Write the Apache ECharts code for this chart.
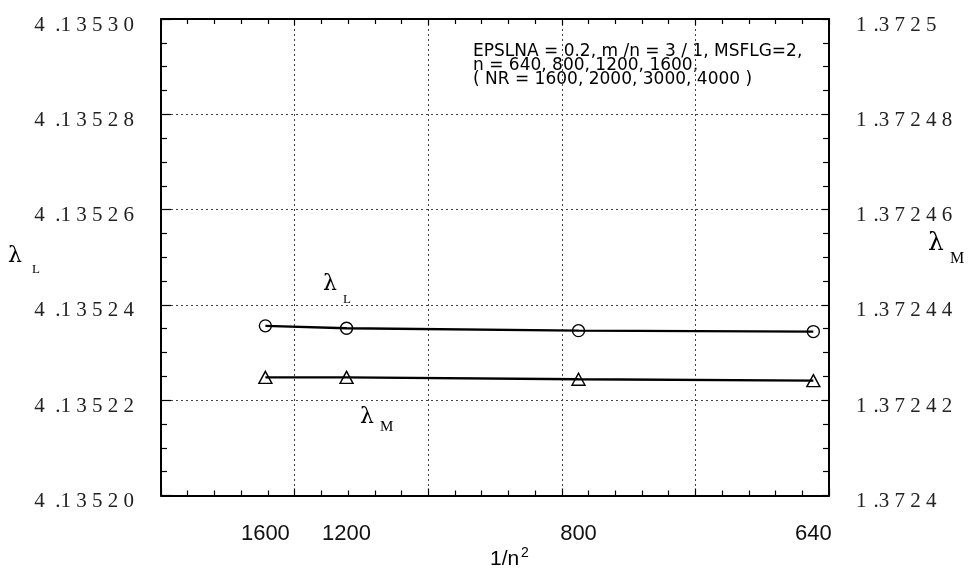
<!DOCTYPE html>
<html>
<head>
<meta charset="utf-8">
<script src="https://cdn.jsdelivr.net/npm/echarts@6/dist/echarts.min.js"></script>
<style>
  html, body { margin: 0; padding: 0; background: #fff; }
  #chart { width: 971px; height: 577px; }
</style>
</head>
<body>
<div id="chart"></div>
<script>
// grid sizes n, the x axis is 1/n^2 (plotted in units of 1e-6)
var nValues = [1600, 1200, 800, 640];
var xTickLabels = ['1600', '1200', '800', '640'];
// eigenvalues
var lambdaL = [4.1352356, 4.1352351, 4.1352346, 4.1352344];
var lambdaM = [1.3724248, 1.3724248, 1.3724244, 1.3724241];
var noteLines = [
  'EPSLNA = 0.2, m /n = 3 / 1, MSFLG=2,',
  'n = 640, 800, 1200, 1600,',
  '( NR = 1600, 2000, 3000, 4000 )'
];

var invN2 = nValues.map(function (n) { return 1e6 / (n * n); });

function pairs(ys) {
  return invN2.map(function (x, i) { return [x, ys[i]]; });
}

// typewriter-like spacing of the y tick labels
function spaced(s, first) {
  var head = s.charAt(0);
  var rest = s.slice(2).split('');
  return head + first + '.' + rest.join('\u2005');
}
function fmtLeft(v) {
  return spaced(v.toFixed(5), '\u2002');
}
function fmtRight(v) {
  return spaced(String(+v.toFixed(5)), '\u2004');
}

var black = '#000';
var tickStyle = { color: black, width: 1.2 };
var frameLine = { show: true, onZero: false, lineStyle: { color: black, width: 2 } };
var gridDots = { show: true, lineStyle: { color: '#444', width: 1, type: [2, 3] } };
var yLabel = {
  color: '#222',
  fontFamily: 'Liberation Serif',
  fontSize: 21,
  margin: 27,
  verticalAlign: 'top',
  lineHeight: 12
};

var myChart = echarts.init(document.getElementById('chart'));
var option = {
  animation: false,
  grid: { left: 161, right: 142, top: 19, bottom: 81.5 },
  xAxis: [
    {
      type: 'value', position: 'bottom', min: 0, max: 2.5, interval: 0.5,
      axisLine: frameLine,
      axisTick: { inside: true, length: 7, lineStyle: tickStyle },
      minorTick: { show: true, splitNumber: 5, length: 5, lineStyle: tickStyle },
      splitLine: gridDots,
      axisLabel: {
        customValues: invN2,
        formatter: function (v) {
          for (var i = 0; i < invN2.length; i++) {
            if (Math.abs(invN2[i] - v) < 1e-9) return xTickLabels[i];
          }
          return '';
        },
        margin: 27,
        fontFamily: 'Liberation Sans',
        fontSize: 22,
        color: '#111'
      }
    },
    {
      type: 'value', position: 'top', min: 0, max: 2.5, interval: 0.5,
      axisLine: frameLine,
      axisTick: { inside: true, length: 6, lineStyle: tickStyle },
      minorTick: { show: true, splitNumber: 5, length: 5, lineStyle: tickStyle },
      splitLine: { show: false },
      axisLabel: { show: false }
    }
  ],
  yAxis: [
    {
      type: 'value', position: 'left', min: 4.1352, max: 4.1353, interval: 0.00002,
      axisLine: frameLine,
      axisTick: { inside: true, length: 10, lineStyle: tickStyle },
      minorTick: { show: true, splitNumber: 4, length: 6, lineStyle: tickStyle },
      splitLine: gridDots,
      axisLabel: Object.assign({ formatter: fmtLeft }, yLabel)
    },
    {
      type: 'value', position: 'right', min: 1.3724, max: 1.3725, interval: 0.00002,
      axisLine: frameLine,
      axisTick: { inside: true, length: 7, lineStyle: tickStyle },
      minorTick: { show: true, splitNumber: 4, length: 6, lineStyle: tickStyle },
      splitLine: { show: false },
      axisLabel: Object.assign({ formatter: fmtRight }, yLabel)
    }
  ],
  series: [
    {
      name: 'lambdaL', type: 'line', xAxisIndex: 0, yAxisIndex: 0,
      data: pairs(lambdaL),
      symbol: 'circle', symbolSize: 12,
      itemStyle: { color: 'rgba(0,0,0,0)', borderColor: black, borderWidth: 1.4 },
      lineStyle: { color: black, width: 2.4 },
      z: 5
    },
    {
      name: 'lambdaM', type: 'line', xAxisIndex: 0, yAxisIndex: 1,
      data: pairs(lambdaM),
      symbol: 'triangle', symbolSize: [13, 12],
      itemStyle: { color: 'rgba(0,0,0,0)', borderColor: black, borderWidth: 1.4 },
      lineStyle: { color: black, width: 2.4 },
      z: 5
    }
  ],
  graphic: [
    { type: 'text', style: { x: 473, y: 44, text: noteLines.join('\n'), font: '17px "DejaVu Sans"', lineHeight: 14.3, fill: '#000', verticalAlign: 'top' } },
    // axis titles
    { type: 'text', style: { x: 8, y: 245, text: 'λ', font: '22px "DejaVu Serif"', fill: '#000', verticalAlign: 'top' } },
    { type: 'text', style: { x: 32, y: 263, text: 'L', font: '13px "Liberation Serif"', fill: '#000', verticalAlign: 'top' } },
    { type: 'text', style: { x: 928, y: 231, text: 'λ', font: '25px "DejaVu Serif"', fill: '#000', verticalAlign: 'top' } },
    { type: 'text', style: { x: 950, y: 251, text: 'M', font: '16px "Liberation Serif"', fill: '#000', verticalAlign: 'top' } },
    { type: 'text', style: { x: 490, y: 549, text: '1/n', font: '21px "Liberation Sans"', fill: '#000', verticalAlign: 'top' } },
    { type: 'text', style: { x: 521, y: 546, text: '2', font: '14px "Liberation Sans"', fill: '#000', verticalAlign: 'top' } },
    // curve labels
    { type: 'text', style: { x: 323, y: 273, text: 'λ', font: '22px "DejaVu Serif"', fill: '#000', verticalAlign: 'top' } },
    { type: 'text', style: { x: 343, y: 293, text: 'L', font: '13px "Liberation Serif"', fill: '#000', verticalAlign: 'top' } },
    { type: 'text', style: { x: 360, y: 406, text: 'λ', font: '22px "DejaVu Serif"', fill: '#000', verticalAlign: 'top' } },
    { type: 'text', style: { x: 380, y: 420, text: 'M', font: '15px "Liberation Serif"', fill: '#000', verticalAlign: 'top' } }
  ]
};
myChart.setOption(option);
</script>
</body>
</html>
